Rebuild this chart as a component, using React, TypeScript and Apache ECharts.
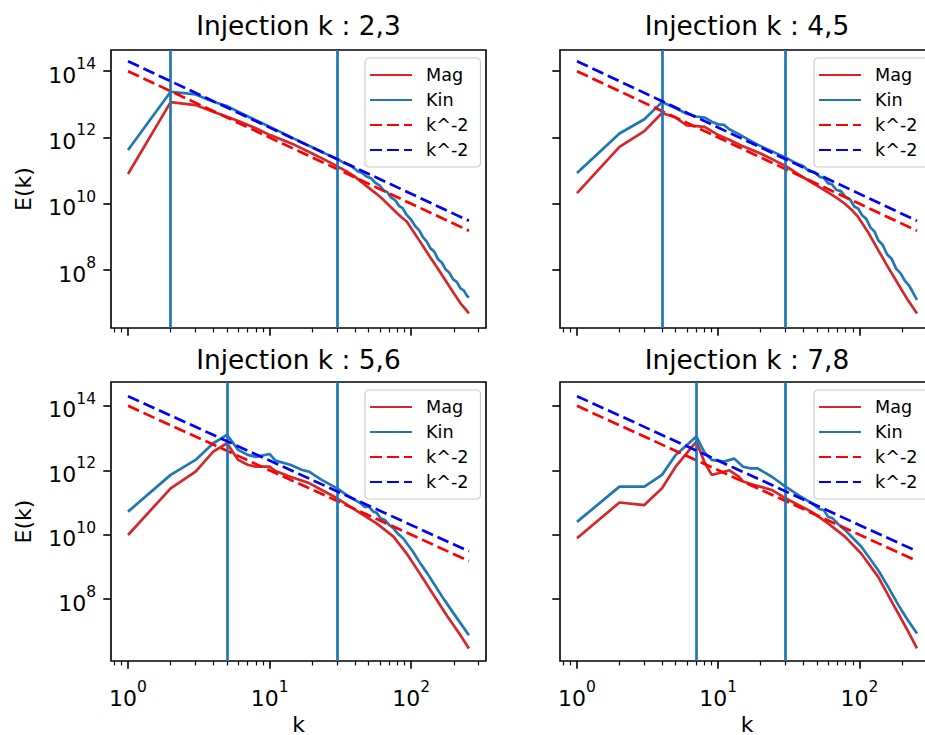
import React, { useEffect, useRef } from 'react';
import * as echarts from 'echarts';

const FONT = 'DejaVu Sans';

const titles = ['Injection k : 2,3', 'Injection k : 4,5', 'Injection k : 5,6', 'Injection k : 7,8'];
const injectionK = [2, 4, 5, 7];
const cutoffK = 30;

const majorXTicks = [1, 10, 100];
const minorXTicks = [0.8, 0.9, 2, 3, 4, 5, 6, 7, 8, 9, 20, 30, 40, 50, 60, 70, 80, 90, 200, 300];
const yTicks = [1e8, 1e10, 1e12, 1e14];

// reference k^-2 slopes
const dashRed = [[1, 1e14], [256, 1.53e9]];
const dashBlue = [[1, 2e14], [256, 3.05e9]];

// [k, E(k)]
const magTL = [
  [1, 7.9e10], [2, 1.17e13], [3, 9.5e12], [4, 6.0e12], [5, 4.2e12], [6, 3.16e12], [8, 1.9e12],
  [10, 1.2e12], [12, 8.9e11], [15, 6.0e11], [20, 3.3e11], [25, 2.04e11], [30, 1.35e11],
  [35, 9.5e10], [40, 6.6e10], [49, 3.3e10], [56, 2.1e10], [64, 1.29e10], [75, 6.6e9],
  [85, 4.0e9], [93, 2.9e9], [110, 1.0e9], [130, 3.3e8], [150, 1.32e8], [175, 4.8e7],
  [200, 2.0e7], [225, 9.5e6], [256, 4.9e6],
];
const kinTL = [
  [1, 4.2e11], [2, 2.4e13], [3, 2.0e13], [4, 1.2e13], [5, 8.9e12], [6, 6.0e12], [8, 3.3e12],
  [10, 2.1e12], [12, 1.45e12], [15, 9.1e11], [20, 5.1e11], [25, 3.2e11], [30, 2.24e11],
  [34, 1.66e11], [38, 1.35e11], [42, 9.5e10], [45, 8.7e10], [48, 6.8e10], [52, 5.9e10],
  [56, 4.3e10], [60, 3.55e10], [64, 2.5e10], [68, 2.24e10], [72, 1.55e10], [77, 1.29e10],
  [82, 8.7e9], [87, 7.4e9], [93, 4.6e9], [100, 3.3e9], [107, 2.1e9], [114, 1.58e9],
  [121, 9.8e8], [129, 7.2e8], [137, 4.5e8], [146, 3.55e8], [155, 2.1e8], [165, 1.66e8],
  [175, 1.05e8], [186, 8.3e7], [198, 5.2e7], [210, 4.4e7], [223, 2.8e7], [236, 2.4e7],
  [248, 1.66e7], [256, 1.48e7],
];
const magTR = [
  [1, 2.1e10], [2, 5.2e11], [3, 1.55e12], [4, 5.5e12], [5, 4.0e12], [6, 2.3e12], [7, 2.2e12],
  [8, 2.1e12], [10, 1.2e12], [12, 8.5e11], [15, 5.4e11], [20, 3.3e11], [25, 2.04e11],
  [30, 1.38e11], [40, 6.3e10], [50, 3.55e10], [60, 2.2e10], [70, 1.45e10], [79, 1.0e10],
  [90, 6.0e9], [98, 4.0e9], [115, 1.41e9], [136, 4.0e8], [160, 1.2e8], [190, 3.55e7],
  [220, 1.26e7], [256, 4.9e6],
];
const kinTR = [
  [1, 8.5e10], [2, 1.32e12], [3, 3.55e12], [4, 1.17e13], [5, 7.6e12], [6, 5.2e12], [7, 4.3e12],
  [8, 4.0e12], [9, 3.0e12], [10, 2.5e12], [11, 2.4e12], [12, 1.78e12], [14, 1.26e12],
  [17, 7.9e11], [20, 5.5e11], [25, 3.55e11], [30, 2.5e11], [35, 1.74e11], [40, 1.38e11],
  [44, 9.5e10], [48, 9.1e10], [52, 6.6e10], [56, 6.0e10], [60, 4.2e10], [64, 3.8e10],
  [69, 2.6e10], [74, 2.4e10], [80, 1.58e10], [86, 1.35e10], [92, 8.3e9], [98, 7.2e9],
  [105, 4.4e9], [112, 3.5e9], [120, 1.9e9], [128, 1.45e9], [136, 7.9e8], [146, 5.8e8],
  [157, 3.0e8], [169, 2.2e8], [182, 1.1e8], [196, 7.9e7], [211, 4.6e7], [226, 3.3e7],
  [241, 2.0e7], [256, 1.26e7],
];
const magBL = [
  [1, 9.8e9], [2, 2.75e11], [3, 9.1e11], [4, 3.8e12], [5, 6.9e12], [6, 2.1e12], [7, 1.48e12],
  [8, 1.29e12], [10, 1.29e12], [11, 9.5e11], [14, 6.3e11], [19, 4.0e11], [30, 1.35e11],
  [44, 4.6e10], [57, 2.24e10], [75, 8.7e9], [93, 2.6e9], [115, 6.3e8], [144, 1.35e8],
  [180, 2.95e7], [220, 8.3e6], [256, 2.95e6],
];
const kinBL = [
  [1, 5.2e10], [2, 7.2e11], [3, 2.1e12], [4, 6.9e12], [5, 1.26e13], [6, 4.3e12], [7, 3.0e12],
  [8, 2.6e12], [10, 3.2e12], [11, 2.0e12], [14, 1.48e12], [17, 1.02e12], [19, 9.1e11],
  [23, 5.2e11], [30, 2.75e11], [36, 1.58e11], [40, 1.2e11], [44, 9.5e10], [47, 7.2e10],
  [50, 7.6e10], [54, 5.2e10], [57, 4.8e10], [61, 3.16e10], [65, 2.9e10], [70, 2.0e10],
  [75, 1.58e10], [81, 1.05e10], [88, 7.6e9], [95, 4.8e9], [102, 3.16e9], [116, 1.29e9],
  [130, 6.3e8], [144, 3.1e8], [170, 1.0e8], [200, 3.55e7], [230, 1.48e7], [256, 7.6e6],
];
const magBR = [
  [1, 7.8e9], [2, 1.0e11], [3, 8.3e10], [4, 2.75e11], [5, 1.29e12], [7, 7.8e12], [8, 1.78e12],
  [9, 7.2e11], [10, 8.1e11], [12, 1.0e12], [14, 6.3e11], [15, 4.5e11], [18, 3.5e11],
  [24, 2.45e11], [30, 1.35e11], [46, 5.1e10], [60, 2.24e10], [79, 8.7e9], [103, 2.6e9],
  [136, 4.9e8], [180, 5.2e7], [220, 1.05e7], [256, 2.95e6],
];
const kinBR = [
  [1, 2.5e10], [2, 3.1e11], [3, 3.1e11], [4, 7.2e11], [5, 3.0e12], [7, 1.12e13], [8, 3.55e12],
  [9, 2.1e12], [11, 1.86e12], [13, 2.3e12], [15, 1.29e12], [17, 1.15e12], [19, 1.15e12],
  [24, 6.3e11], [30, 3.1e11], [38, 1.58e11], [46, 9.5e10], [52, 6.3e10], [56, 5.8e10],
  [60, 3.6e10], [65, 3.16e10], [70, 2.24e10], [79, 1.41e10], [90, 7.9e9], [103, 4.3e9],
  [118, 1.9e9], [136, 7.9e8], [160, 2.4e8], [190, 6.3e7], [220, 2.24e7], [256, 8.5e6],
];

const magSeries = [magTL, magTR, magBL, magBR];
const kinSeries = [kinTL, kinTR, kinBL, kinBR];

const xRange = [0.758, 337.8];
const yRangeTop = [1.78e6, 4.37e14];
const yRangeBottom = [1.2e6, 5.5e14];

const boxes = [
  { left: 111, top: 50, width: 375, height: 278 },
  { left: 560, top: 50, width: 374, height: 278 },
  { left: 111, top: 382, width: 375, height: 279 },
  { left: 560, top: 382, width: 374, height: 279 },
];

const RED = '#d62728';
const BLUE = '#1f77b4';
const LW = 2.7;

const rich = {
  b: { fontFamily: FONT, fontSize: 22, color: '#000', lineHeight: 30, verticalAlign: 'bottom' },
  s: { fontFamily: FONT, fontSize: 15.5, color: '#000', lineHeight: 14, verticalAlign: 'top' },
};
const powFmt = (v: number) => `{b|10}{s|${Math.round(Math.log10(v))}}`;

export default function App() {
  const ref = useRef<HTMLDivElement>(null);
  useEffect(() => {
    if (!ref.current) return;
    const chart = echarts.init(ref.current, undefined, { renderer: 'svg' });
    const isBottom = (i: number) => i >= 2;
    const isLeft = (i: number) => i % 2 === 0;

    const tickStyle = { color: '#000', width: 1.6 };

    const xMajor = boxes.map((_, i) => ({
      type: 'log', logBase: 10, gridIndex: i, min: xRange[0], max: xRange[1], position: 'bottom',
      axisLine: { show: false }, splitLine: { show: false },
      axisTick: { show: true, length: 7.7, lineStyle: tickStyle, customValues: majorXTicks },
      axisLabel: { show: isBottom(i), customValues: majorXTicks, formatter: powFmt, rich, margin: 18 },
      name: isBottom(i) ? 'k' : '', nameLocation: 'middle', nameGap: 56,
      nameTextStyle: { fontFamily: FONT, fontSize: 22, color: '#000', lineHeight: 14 },
    }));
    const xMinor = boxes.map((_, i) => ({
      type: 'log', logBase: 10, gridIndex: i, min: xRange[0], max: xRange[1], position: 'bottom',
      axisLine: { show: false }, splitLine: { show: false }, axisLabel: { show: false },
      axisTick: { show: true, length: 4.4, lineStyle: { color: '#000', width: 1.2 }, customValues: minorXTicks },
    }));
    const yAxes = boxes.map((_, i) => {
      const r = isBottom(i) ? yRangeBottom : yRangeTop;
      return {
        type: 'log', logBase: 10, gridIndex: i, min: r[0], max: r[1],
        axisLine: { show: false }, splitLine: { show: false },
        axisTick: { show: true, length: 7.7, lineStyle: tickStyle, customValues: yTicks },
        axisLabel: { show: isLeft(i), customValues: yTicks, formatter: powFmt, rich, margin: 15 },
        name: isLeft(i) ? 'E(k)' : '', nameLocation: 'middle', nameGap: 77,
        nameTextStyle: { fontFamily: FONT, fontSize: 22, color: '#000' },
      };
    });

    const series: any[] = [];
    boxes.forEach((_, i) => {
      const common = { type: 'line', xAxisIndex: i, yAxisIndex: i, symbol: 'none', showSymbol: false, silent: true };
      series.push({ ...common, name: 'Mag', data: magSeries[i], lineStyle: { color: RED, width: LW }, itemStyle: { color: RED }, z: 2 });
      series.push({ ...common, name: 'Kin', data: kinSeries[i], lineStyle: { color: BLUE, width: LW }, itemStyle: { color: BLUE }, z: 3 });
      series.push({ ...common, name: 'k^-2 r', data: dashRed, lineStyle: { color: '#ff0000', width: LW, type: [12, 5] }, itemStyle: { color: '#ff0000' }, z: 4 });
      series.push({ ...common, name: 'k^-2 b', data: dashBlue, lineStyle: { color: '#0000ff', width: LW, type: [12, 5] }, itemStyle: { color: '#0000ff' }, z: 5 });
      series.push({
        ...common, name: 'vlines', data: [], z: 6,
        markLine: {
          silent: true, symbol: 'none', label: { show: false }, animation: false,
          lineStyle: { color: BLUE, width: LW, type: 'solid' },
          emphasis: { disabled: true },
          data: [{ xAxis: injectionK[i] }, { xAxis: cutoffK }],
        },
      });
    });

    const option: any = {
      animation: false,
      backgroundColor: '#ffffff',
      title: titles.map((t, i) => ({
        text: t, left: boxes[i].left + boxes[i].width / 2, top: isBottom(i) ? 346 : 12,
        textAlign: 'center', padding: 0,
        textStyle: { fontFamily: FONT, fontSize: 26.4, fontWeight: 'normal', color: '#000', lineHeight: 26.4 },
      })),
      legend: boxes.map((b, i) => ({
        orient: 'vertical', left: b.left + 254, top: b.top + 8,
        data: ['Mag', 'Kin', 'k^-2 r', 'k^-2 b'],
        formatter: (n: string) => (n.indexOf('k^-2') === 0 ? 'k^-2' : n),
        itemWidth: 42, itemHeight: 14, itemGap: 7, padding: [8, 12, 8, 4],
        selectedMode: false,
        itemStyle: { opacity: 0, borderWidth: 0 },
        textStyle: { fontFamily: FONT, fontSize: 17.6, color: '#000', lineHeight: 18, padding: [0, 0, 0, 9] },
        backgroundColor: 'rgba(255,255,255,0.8)', borderColor: '#cccccc', borderWidth: 1.2, borderRadius: 4,
      })),
      grid: boxes.map((b) => ({
        ...b, show: true, borderColor: '#000', borderWidth: 1.6, backgroundColor: 'transparent',
        containLabel: false, outerBoundsMode: 'none',
      })),
      xAxis: [...xMajor, ...xMinor],
      yAxis: yAxes,
      series,
    };
    chart.setOption(option);
    return () => chart.dispose();
  }, []);
  return <div ref={ref} style={{ position: 'absolute', left: 0, top: 0, width: '925px', height: '735px', background: '#fff' }} />;
}
